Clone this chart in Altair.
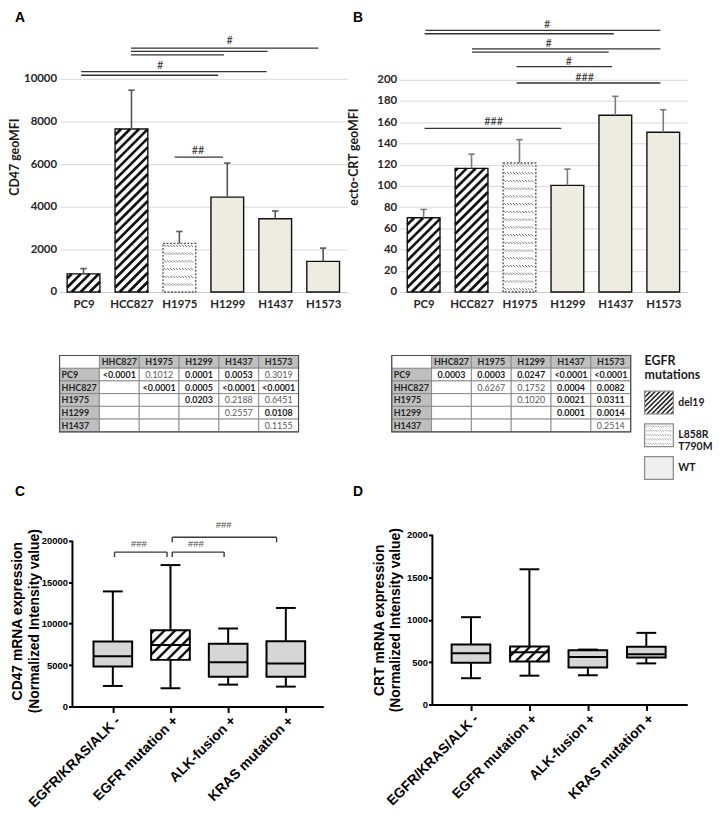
import json
import math
import altair as alt
import pandas as pd

# ======================= DATA =======================
cell_lines = ["PC9", "HCC827", "H1975", "H1299", "H1437", "H1573"]
egfr_status = ["del19", "del19", "L858R", "WT", "WT", "WT"]

cd47_mean = [850, 7650, 2280, 4450, 3440, 1440]
cd47_sd = [250, 1820, 560, 1600, 360, 620]
cd47_ticks = [0, 2000, 4000, 6000, 8000, 10000]

crt_mean = [70, 116.5, 121.5, 100.5, 166.5, 150.5]
crt_sd = [7.8, 13.3, 22.0, 15.3, 17.8, 21.2]
crt_ticks = [0, 20, 40, 60, 80, 100, 120, 140, 160, 180, 200]

# significance lines (category positions) and their markers
a_sig_from = [0.99, 0.99, 0.99, -0.05, -0.05, 1.90]
a_sig_to = [4.90, 3.84, 2.93, 3.82, 2.81, 2.91]
a_sig_level = [11440, 11290, 11130, 10340, 10170, 6330]
a_mark_text = ["#", "#", "##"]
a_mark_pos = [3.05, 1.60, 2.39]
a_mark_level = [11780, 10590, 6600]

b_sig_from = [0.04, 0.02, 1.01, 1.01, 1.94, 1.94, 0.02]
b_sig_to = [4.94, 3.97, 4.94, 3.86, 3.93, 4.94, 2.87]
b_sig_level = [246.4, 243.3, 229.0, 225.9, 212.4, 196.9, 154.2]
b_mark_text = ["#", "#", "#", "###", "###"]
b_mark_pos = [2.58, 2.61, 3.03, 3.36, 1.46]
b_mark_level = [251.1, 233.6, 216.8, 201.9, 160.4]

tbl_cols = ["HHC827", "H1975", "H1299", "H1437", "H1573"]
tbl_rows = ["PC9", "HHC827", "H1975", "H1299", "H1437"]
tblA_pvals = [
    ["<0.0001", "0.1012", "0.0001", "0.0053", "0.3019"],
    ["", "<0.0001", "0.0005", "<0.0001", "<0.0001"],
    ["", "", "0.0203", "0.2188", "0.6451"],
    ["", "", "", "0.2557", "0.0108"],
    ["", "", "", "", "0.1155"],
]
tblB_pvals = [
    ["0.0003", "0.0003", "0.0247", "<0.0001", "<0.0001"],
    ["", "0.6267", "0.1752", "0.0004", "0.0082"],
    ["", "", "0.1020", "0.0021", "0.0311"],
    ["", "", "", "0.0001", "0.0014"],
    ["", "", "", "", "0.2514"],
]

legend_title = ["EGFR", "mutations"]
legend_keys = ["del19", "L858R", "WT"]
legend_labels = ["del19", "L858R\nT790M", "WT"]

groups = ["EGFR/KRAS/ALK -", "EGFR mutation +", "ALK-fusion +", "KRAS mutation +"]
group_pattern = ["plain", "del19", "plain", "plain"]

c_min = [2480, 2200, 2640, 2400]
c_q1 = [4830, 5630, 3590, 3590]
c_med = [6070, 7420, 5350, 5190]
c_q3 = [7860, 9220, 7590, 7870]
c_max = [13900, 17080, 9420, 11900]
c_ticks = [0, 5000, 10000, 15000, 20000]

c_br_from = [0.03, 1.03, 1.03]
c_br_to = [0.94, 1.93, 2.84]
c_br_level = [18650, 18650, 20440]
c_br_drop = [600, 600, 600]
c_br_text = ["###", "###", "###"]
c_br_text_pos = [0.45, 1.44, 1.92]
c_br_text_level = [19570, 19570, 21880]

d_min = [310, 340, 345, 485]
d_q1 = [492, 508, 437, 555]
d_med = [605, 617, 559, 594]
d_q3 = [707, 684, 640, 680]
d_max = [1030, 1595, 648, 845]
d_ticks = [0, 500, 1000, 1500, 2000]

# ======================= HELPERS =======================
LATO = "Lato"
ARIAL = "Liberation Sans"
DARK = "#262626"


def diag_hatch(x0, x1, y0, y1, sx, sy, gap):
    """'/' stripes at 45 degrees (in pixels) clipped to a rectangle given in data units."""
    X0, X1, Y0, Y1 = x0 * sx, x1 * sx, y0 * sy, y1 * sy
    step = gap * math.sqrt(2)
    base = Y0 - X0
    n0 = math.floor(-(X1 - X0) / step) - 1
    n1 = math.ceil((Y1 - Y0) / step) + 1
    out = []
    for n in range(n0, n1 + 1):
        c = base + (n + 0.5) * step
        xs = max(X0, Y0 - c)
        xe = min(X1, Y1 - c)
        if xe - xs > 0.4:
            out.append({"x": xs / sx, "y": (xs + c) / sy, "x2": xe / sx, "y2": (xe + c) / sy})
    return out


def dash_hatch(x0, x1, y0, y1, sx, sy, row_gap, pitch, size):
    """rows of small '\\' dashes clipped to a rectangle."""
    X0, X1, Y0, Y1 = x0 * sx, x1 * sx, y0 * sy, y1 * sy
    out = []
    yr = Y1 - 2.5
    while yr - size / 2 > Y0 + 0.8:
        x = X0 + 1.0
        while x + size < X1 - 0.8:
            out.append({"x": x / sx, "y": (yr + size / 2) / sy,
                        "x2": (x + size) / sx, "y2": (yr - size / 2) / sy})
            x += pitch
        yr -= row_gap
    return out


def qenc(chan, field, scale, axis):
    return chan(field, type="quantitative", scale=scale, axis=axis)


def letter_layer(letter, dx, dy):
    return alt.Chart(pd.DataFrame({"t": [letter]})).mark_text(
        font=ARIAL, fontWeight="bold", fontSize=14, align="left", baseline="alphabetic", color="black"
    ).encode(text="t:N", x=alt.value(dx), y=alt.value(dy))


# ======================= PANELS A / B =======================
def bar_panel(means, sds, ymax, ticks, ytitle, title_pad, sfrom, sto, slevel, mtext, mpos, mlevel,
              letter, letter_dx, err_color):
    W, H = 290, 273
    n = len(cell_lines)
    xdom = [-0.5, n - 0.5]
    sx = W / (xdom[1] - xdom[0])
    sy = H / ymax
    hw = 16.5 / sx
    cap = 3.2 / sx
    df = pd.DataFrame({"pos": list(range(n)), "name": cell_lines, "status": egfr_status,
                       "mean": means, "sd": sds})
    df["zero"] = 0.0
    df["xl"] = df["pos"] - hw
    df["xr"] = df["pos"] + hw
    df["top"] = df["mean"] + df["sd"]
    df["cl"] = df["pos"] - cap
    df["cr"] = df["pos"] + cap

    diag, dash = [], []
    for r in df.itertuples():
        if r.status == "del19":
            diag += diag_hatch(r.xl, r.xr, 0, r.mean, sx, sy, 6.4)
        elif r.status == "L858R":
            dash += dash_hatch(r.xl, r.xr, 0, r.mean, sx, sy, 7.8, 3.0, 2.3)
    ddf = pd.DataFrame(diag)
    sdf = pd.DataFrame(dash)

    XS = alt.Scale(domain=xdom, nice=False, zero=False)
    YS = alt.Scale(domain=[0, ymax], nice=False)
    xaxis = alt.Axis(values=list(range(n)), labelExpr=f"{json.dumps(cell_lines)}[datum.value]",
                     title=None, grid=False, ticks=False, domain=True, domainColor="#c8c8c8",
                     labelFont=LATO, labelFontWeight="bold", labelFontSize=11.5, labelColor=DARK,
                     labelPadding=7, labelFlush=False, labelOverlap=False, labelAngle=0)
    yaxis = alt.Axis(values=ticks, format="d", title=ytitle, grid=True, gridColor="#d9d9d9", domain=False,
                     ticks=False, labelFont=LATO, labelFontWeight="bold", labelFontSize=11.5,
                     labelColor=DARK, labelPadding=3, labelFlush=False, titleFont=LATO, titleFontSize=12.5,
                     titleFontWeight="bold", titleColor="#1a1a1a", titlePadding=title_pad)
    X = lambda f: qenc(alt.X, f, XS, xaxis)
    Y = lambda f: qenc(alt.Y, f, YS, yaxis)

    fill_w = alt.Chart(df).transform_filter("datum.status != 'WT'").mark_rect(
        fill="#ffffff", strokeWidth=0).encode(x=X("xl"), x2="xr", y=Y("zero"), y2="mean")
    fill_wt = alt.Chart(df).transform_filter("datum.status == 'WT'").mark_rect(
        fill="#eeece1", strokeWidth=0).encode(x=X("xl"), x2="xr", y=Y("zero"), y2="mean")
    hatch = alt.Chart(ddf).mark_rule(color="#111111", strokeWidth=2.7).encode(
        x=X("x"), y=Y("y"), x2="x2", y2="y2")
    dots = alt.Chart(sdf).mark_rule(color="#6b6b6b", strokeWidth=1.0).encode(
        x=X("x"), y=Y("y"), x2="x2", y2="y2")
    out_solid = alt.Chart(df).transform_filter("datum.status != 'L858R'").mark_rect(
        fillOpacity=0, stroke="#111111", strokeWidth=1.4).encode(x=X("xl"), x2="xr", y=Y("zero"), y2="mean")
    out_dash = alt.Chart(df).transform_filter("datum.status == 'L858R'").mark_rect(
        fillOpacity=0, stroke="#5a5a5a", strokeWidth=1.4, strokeDash=[2, 1.5]).encode(
        x=X("xl"), x2="xr", y=Y("zero"), y2="mean")
    err = alt.Chart(df).mark_rule(color=err_color, strokeWidth=1.6).encode(
        x=X("pos"), y=Y("mean"), y2="top")
    caps = alt.Chart(df).mark_rule(color=err_color, strokeWidth=1.6).encode(
        x=X("cl"), x2="cr", y=Y("top"))

    sig = pd.DataFrame({"from": sfrom, "to": sto, "level": slevel})
    sig_lines = alt.Chart(sig).mark_rule(color="#333333", strokeWidth=1.3).encode(
        x=X("from"), x2="to", y=Y("level"))
    mk = pd.DataFrame({"text": mtext, "pos": mpos, "level": mlevel})
    marks = alt.Chart(mk).mark_text(font=LATO, fontSize=11, color="#333333", baseline="middle").encode(
        x=X("pos"), y=Y("level"), text="text:N")

    return alt.layer(fill_w, fill_wt, hatch, dots, out_solid, out_dash, err, caps, sig_lines, marks,
                     letter_layer(letter, letter_dx, 1)).properties(width=W, height=H)


# ======================= TABLES =======================
def table_panel(pvals, W=241, H=77):
    recs = []
    header = [""] + tbl_cols
    for c, h in enumerate(header):
        recs.append(dict(c=c, r=0, text=h, kind="head" if c > 0 else "blank", style="head"))
    for r, rname in enumerate(tbl_rows, start=1):
        recs.append(dict(c=0, r=r, text=rname, kind="head", style="rowhead"))
        for c, v in enumerate(pvals[r - 1], start=1):
            sig = v != "" and (v.startswith("<") or float(v) < 0.05)
            recs.append(dict(c=c, r=r, text=v, kind="cell", style="sig" if sig else "ns"))
    df = pd.DataFrame(recs)
    df["c2"] = df["c"] + 1
    df["r2"] = df["r"] + 1
    df["cx"] = df["c"] + 0.5
    df["ry"] = df["r"] + 0.53
    df["lx"] = df["c"] + 0.05
    XS = alt.Scale(domain=[0, 6], nice=False, zero=False)
    YS = alt.Scale(domain=[0, 6], nice=False, zero=False, reverse=True)
    X = lambda f: alt.X(f, type="quantitative", scale=XS, axis=None)
    Y = lambda f: alt.Y(f, type="quantitative", scale=YS, axis=None)
    cells_h = alt.Chart(df).transform_filter("datum.kind == 'head'").mark_rect(
        fill="#bfbfbf", stroke="#858585", strokeWidth=0.9).encode(x=X("c"), x2="c2", y=Y("r"), y2="r2")
    cells_w = alt.Chart(df).transform_filter("datum.kind != 'head'").mark_rect(
        fill="#ffffff", stroke="#858585", strokeWidth=0.9).encode(x=X("c"), x2="c2", y=Y("r"), y2="r2")
    frame = alt.Chart(pd.DataFrame({"a": [0], "b": [6]})).mark_rect(
        fillOpacity=0, stroke="#4d4d4d", strokeWidth=1.2).encode(x=X("a"), x2="b", y=Y("a"), y2="b")
    tkw = dict(font=LATO, fontSize=9, baseline="middle")
    head = alt.Chart(df).transform_filter("datum.style == 'head'").mark_text(
        fontWeight="bold", color="#262626", **tkw).encode(x=X("cx"), y=Y("ry"), text="text:N")
    rowhead = alt.Chart(df).transform_filter("datum.style == 'rowhead'").mark_text(
        fontWeight="bold", color="#262626", align="left", **tkw).encode(x=X("lx"), y=Y("ry"), text="text:N")
    sig = alt.Chart(df).transform_filter("datum.style == 'sig'").mark_text(
        fontWeight="bold", color="#1a1a1a", **tkw).encode(x=X("cx"), y=Y("ry"), text="text:N")
    ns = alt.Chart(df).transform_filter("datum.style == 'ns'").mark_text(
        fontWeight="normal", color="#5a5a5a", **tkw).encode(x=X("cx"), y=Y("ry"), text="text:N")
    return alt.layer(cells_h, cells_w, frame, head, rowhead, sig, ns).properties(width=W, height=H)


# ======================= LEGEND =======================
def legend_panel(W=57, H=125):
    XS = alt.Scale(domain=[0, W], nice=False, zero=False)
    YS = alt.Scale(domain=[0, H], nice=False, zero=False)
    X = lambda f: alt.X(f, type="quantitative", scale=XS, axis=None)
    Y = lambda f: alt.Y(f, type="quantitative", scale=YS, axis=None)
    k = len(legend_keys)
    items = pd.DataFrame({"key": legend_keys, "label": legend_labels, "i": list(range(k))})
    items["bot"] = 66 - 33 * items["i"]
    items["top"] = items["bot"] + 23
    items["xl"] = 0.0
    items["xr"] = 29.0
    items["tx"] = 34.0
    items["ty"] = items["bot"] + 11.5
    diag, dash = [], []
    for r in items.itertuples():
        if r.key == "del19":
            diag += diag_hatch(r.xl, r.xr, r.bot, r.top, 1, 1, 3.4)
        elif r.key == "L858R":
            dash += dash_hatch(r.xl, r.xr, r.bot, r.top, 1, 1, 4.4, 2.4, 1.8)
    ddf = pd.DataFrame(diag)
    sdf = pd.DataFrame(dash)
    fill_w = alt.Chart(items).transform_filter("datum.key != 'WT'").mark_rect(
        fill="#ffffff", strokeWidth=0).encode(x=X("xl"), x2="xr", y=Y("bot"), y2="top")
    fill_g = alt.Chart(items).transform_filter("datum.key == 'WT'").mark_rect(
        fill="#efefef", strokeWidth=0).encode(x=X("xl"), x2="xr", y=Y("bot"), y2="top")
    hatch = alt.Chart(ddf).mark_rule(color="#1a1a1a", strokeWidth=1.5).encode(
        x=X("x"), y=Y("y"), x2="x2", y2="y2")
    dots = alt.Chart(sdf).mark_rule(color="#8a8a8a", strokeWidth=0.8).encode(
        x=X("x"), y=Y("y"), x2="x2", y2="y2")
    outline = alt.Chart(items).mark_rect(fillOpacity=0, stroke="#8c8c8c", strokeWidth=1.3).encode(
        x=X("xl"), x2="xr", y=Y("bot"), y2="top")
    labels = alt.Chart(items).mark_text(font=LATO, fontWeight="bold", fontSize=10.5, align="left",
                                        baseline="middle", lineBreak="\n", lineHeight=11.5,
                                        color="#1a1a1a").encode(x=X("tx"), y=Y("ty"), text="label:N")
    title = pd.DataFrame({"t": legend_title, "j": list(range(len(legend_title)))})
    title["ty"] = 119 - 14 * title["j"]
    title["tx"] = 0.0
    tmark = alt.Chart(title).mark_text(font=LATO, fontWeight="bold", fontSize=12.5, align="left",
                                       baseline="middle", color="#1a1a1a").encode(
        x=X("tx"), y=Y("ty"), text="t:N")
    return alt.layer(fill_w, fill_g, hatch, dots, outline, labels, tmark).properties(width=W, height=H)


# ======================= PANELS C / D =======================
def box_panel(mins, q1s, meds, q3s, maxs, yaxis_max, ytop, W, H, xdom, ticks, ytitle, title_pad,
              letter, letter_dx, brackets=None):
    n = len(groups)
    sx = W / (xdom[1] - xdom[0])
    sy = H / ytop
    hw = 19.5 / sx
    cap = 10.0 / sx
    df = pd.DataFrame({"pos": list(range(n)), "pat": group_pattern, "mn": mins, "q1": q1s,
                       "med": meds, "q3": q3s, "mx": maxs})
    df["xl"] = df["pos"] - hw
    df["xr"] = df["pos"] + hw
    df["cl"] = df["pos"] - cap
    df["cr"] = df["pos"] + cap
    diag = []
    for r in df.itertuples():
        if r.pat == "del19":
            diag += diag_hatch(r.xl, r.xr, r.q1, r.q3, sx, sy, 7.6)
    ddf = pd.DataFrame(diag)

    XS = alt.Scale(domain=xdom, nice=False, zero=False)
    YS = alt.Scale(domain=[0, ytop], nice=False)
    xaxis = alt.Axis(values=list(range(n)), labelExpr=f"{json.dumps(groups)}[datum.value]", title=None,
                     grid=False, ticks=True, tickSize=6, tickWidth=2, tickColor="black", domain=True,
                     domainColor="black", domainWidth=2, labelFont=ARIAL, labelFontWeight="bold",
                     labelFontSize=14, labelColor="black", labelAngle=-45, labelPadding=1,
                     labelFlush=False, labelOverlap=False)
    yaxis = alt.Axis(values=ticks, format="d", title=ytitle, grid=False, domain=False, ticks=True,
                     tickSize=4, tickWidth=2, tickColor="black", labelFont=ARIAL, labelFontWeight="bold",
                     labelFontSize=9.5, labelColor="black", labelPadding=1, labelFlush=False,
                     titleFont=ARIAL, titleFontSize=14, titleFontWeight="bold", titleColor="black",
                     titlePadding=title_pad, titleLineHeight=16.5)
    X = lambda f: qenc(alt.X, f, XS, xaxis)
    Y = lambda f: qenc(alt.Y, f, YS, yaxis)

    lw = 2.0
    wlo = alt.Chart(df).mark_rule(color="black", strokeWidth=lw).encode(x=X("pos"), y=Y("mn"), y2="q1")
    whi = alt.Chart(df).mark_rule(color="black", strokeWidth=lw).encode(x=X("pos"), y=Y("q3"), y2="mx")
    clo = alt.Chart(df).mark_rule(color="black", strokeWidth=lw).encode(x=X("cl"), x2="cr", y=Y("mn"))
    chi = alt.Chart(df).mark_rule(color="black", strokeWidth=lw).encode(x=X("cl"), x2="cr", y=Y("mx"))
    box_g = alt.Chart(df).transform_filter("datum.pat == 'plain'").mark_rect(
        fill="#d6d6d6", strokeWidth=0).encode(x=X("xl"), x2="xr", y=Y("q1"), y2="q3")
    box_w = alt.Chart(df).transform_filter("datum.pat != 'plain'").mark_rect(
        fill="#ffffff", strokeWidth=0).encode(x=X("xl"), x2="xr", y=Y("q1"), y2="q3")
    hatch = alt.Chart(ddf).mark_rule(color="#111111", strokeWidth=2.4).encode(
        x=X("x"), y=Y("y"), x2="x2", y2="y2")
    boxo = alt.Chart(df).mark_rect(fillOpacity=0, stroke="black", strokeWidth=lw).encode(
        x=X("xl"), x2="xr", y=Y("q1"), y2="q3")
    med = alt.Chart(df).mark_rule(color="black", strokeWidth=lw).encode(x=X("xl"), x2="xr", y=Y("med"))
    yline_df = pd.DataFrame({"x": [xdom[0]], "y0": [0], "y1": [yaxis_max]})
    yline = alt.Chart(yline_df).mark_rule(color="black", strokeWidth=2).encode(
        x=X("x"), y=Y("y0"), y2="y1")
    layers = [wlo, whi, clo, chi, box_g, box_w, hatch, boxo, med, yline]
    if brackets is not None:
        bfrom, bto, blevel, bdrop, btext, btpos, btlevel = brackets
        bdf = pd.DataFrame({"from": bfrom, "to": bto, "level": blevel, "drop": bdrop})
        bdf["low"] = bdf["level"] - bdf["drop"]
        bkw = dict(color="#3a3a3a", strokeWidth=1.4)
        layers.append(alt.Chart(bdf).mark_rule(**bkw).encode(x=X("from"), x2="to", y=Y("level")))
        layers.append(alt.Chart(bdf).mark_rule(**bkw).encode(x=X("from"), y=Y("low"), y2="level"))
        layers.append(alt.Chart(bdf).mark_rule(**bkw).encode(x=X("to"), y=Y("low"), y2="level"))
        tdf = pd.DataFrame({"t": btext, "pos": btpos, "level": btlevel})
        layers.append(alt.Chart(tdf).mark_text(font=ARIAL, fontSize=9.5, color="#4a4a4a",
                                               baseline="middle").encode(
            x=X("pos"), y=Y("level"), text="t:N"))
    layers.append(letter_layer(letter, letter_dx, -39.5))
    return alt.layer(*layers).properties(width=W, height=H)


# ======================= ASSEMBLY =======================
panel_a = bar_panel(cd47_mean, cd47_sd, 12700, cd47_ticks, "CD47 geoMFI", 2,
                    a_sig_from, a_sig_to, a_sig_level, a_mark_text, a_mark_pos, a_mark_level,
                    "A", -45, "#555555")
panel_b = bar_panel(crt_mean, crt_sd, 255, crt_ticks, "ecto-CRT geoMFI", 17,
                    b_sig_from, b_sig_to, b_sig_level, b_mark_text, b_mark_pos, b_mark_level,
                    "B", -47, "#7a7a7a")

table_a = table_panel(tblA_pvals)
table_b = table_panel(tblB_pvals)
legend = legend_panel()

panel_c = box_panel(c_min, c_q1, c_med, c_q3, c_max, 20000, 20000 * 173 / 167, 253, 173, [-0.7, 3.65],
                    c_ticks, ["CD47 mRNA expression", "(Normalized Intensity value)"], 0, "C", -58,
                    brackets=(c_br_from, c_br_to, c_br_level, c_br_drop, c_br_text, c_br_text_pos,
                              c_br_text_level))
panel_d = box_panel(d_min, d_q1, d_med, d_q3, d_max, 2000, 2000, 257, 171, [-0.66, 3.7],
                    d_ticks, ["CRT mRNA expression", "(Normalized Intensity value)"], 4, "D", -80)

spacer = alt.Chart(pd.DataFrame({"v": [0]})).mark_point(opacity=0).encode(
    x=alt.value(0), y=alt.value(0)).properties(width=13, height=10)

row1 = alt.hconcat(panel_a, panel_b, spacing=53, bounds="flush")
row2 = alt.hconcat(table_a, alt.hconcat(table_b, legend, spacing=14, bounds="flush"),
                   spacing=94, bounds="flush")
row3 = alt.hconcat(spacer, alt.hconcat(panel_c, panel_d, spacing=110, bounds="flush"),
                   spacing=0, bounds="flush")
upper = alt.vconcat(row1, row2, spacing=44)
chart = alt.vconcat(upper, row3, spacing=4, padding=0).configure_view(strokeWidth=0)

chart.save("out.html", embed_options={"renderer": "svg", "actions": False})
